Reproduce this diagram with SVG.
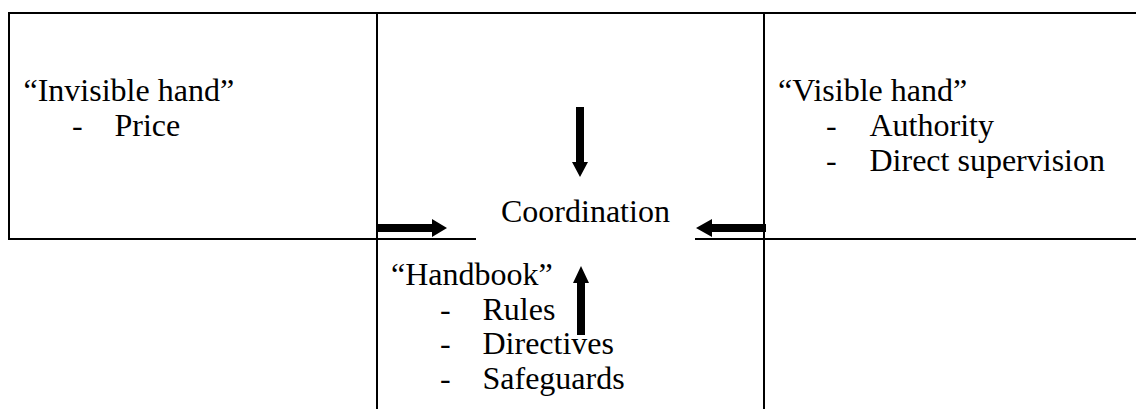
<svg xmlns="http://www.w3.org/2000/svg" width="1136" height="409" viewBox="0 0 1136 409">
  <style>
    .grid { stroke: #000; stroke-width: 2; fill: none; }
    .t { font-family: "Liberation Serif", "Times New Roman", serif; font-size: 32px; fill: #000; }
    .arrow { fill: #000; stroke: none; }
  </style>
  <rect width="1136" height="409" fill="#fff"/>
  <g id="grid">
    <line class="grid" x1="9" y1="13" x2="1136" y2="13"/>
    <line class="grid" x1="9" y1="12" x2="9" y2="240"/>
    <line class="grid" x1="9" y1="239" x2="476" y2="239"/>
    <line class="grid" x1="695" y1="239" x2="1136" y2="239"/>
    <line class="grid" x1="377" y1="12" x2="377" y2="409"/>
    <line class="grid" x1="764" y1="12" x2="764" y2="409"/>
  </g>
  <g id="invisible-hand">
    <text class="t" x="23.5" y="101">“Invisible hand”</text>
    <text class="t" x="72" y="136">-</text>
    <text class="t" x="114.5" y="136">Price</text>
  </g>
  <g id="visible-hand">
    <text class="t" x="778" y="101">“Visible hand”</text>
    <text class="t" x="826" y="136">-</text>
    <text class="t" x="869.5" y="136">Authority</text>
    <text class="t" x="826" y="171">-</text>
    <text class="t" x="869.5" y="171">Direct supervision</text>
  </g>
  <g id="coordination">
    <text class="t" x="501" y="222">Coordination</text>
  </g>
  <g id="handbook">
    <text class="t" x="391" y="285">“Handbook”</text>
    <text class="t" x="440" y="320">-</text>
    <text class="t" x="482.5" y="320">Rules</text>
    <text class="t" x="440" y="354">-</text>
    <text class="t" x="482.5" y="354">Directives</text>
    <text class="t" x="440" y="389">-</text>
    <text class="t" x="482.5" y="389">Safeguards</text>
  </g>
  <g id="connectors">
    <polygon class="arrow" points="576,107 584,107 584,162 588,162 580,177 572,162 576,162"/>
    <polygon class="arrow" points="577,335 585,335 585,283 589,283 581,266 573,283 577,283"/>
    <polygon class="arrow" points="377,224 432,224 432,219 447,228 432,237 432,232 377,232"/>
    <polygon class="arrow" points="766,224 712,224 712,219 696,228 712,237 712,232 766,232"/>
  </g>
</svg>
